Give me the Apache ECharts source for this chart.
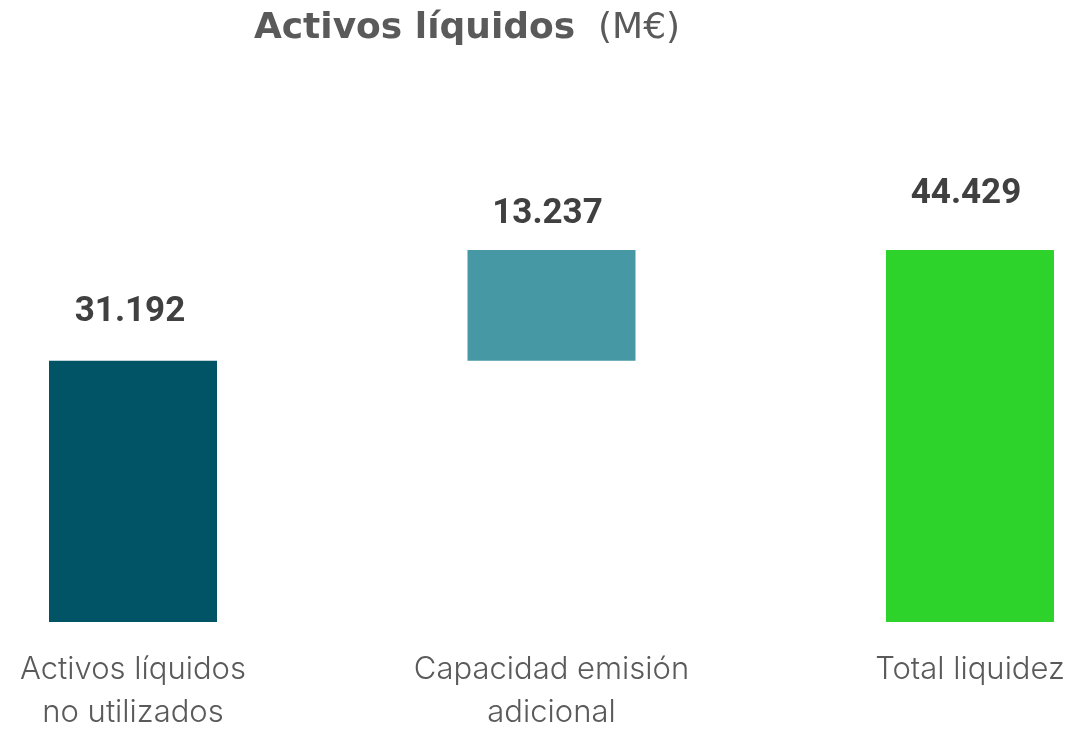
<!DOCTYPE html>
<html>
<head>
<meta charset="utf-8">
<style>
  html, body { margin: 0; padding: 0; background: #ffffff; overflow: hidden; }
  #chart { width: 1076px; height: 734px; }
</style>
<script src="https://cdn.jsdelivr.net/npm/echarts@6/dist/echarts.min.js"></script>
</head>
<body>
<div id="chart"></div>
<script>
// Liquidity waterfall (M€)
const categories = ['Activos líquidos\nno utilizados', 'Capacidad emisión\nadicional', 'Total liquidez'];
const values = [31192, 13237, 44429];
const barColors = ['#015466', '#4698A5', '#2DD32A'];
// invisible base under each bar: the added capacity floats on top of the first bar
const bases = [0, values[0], 0];
// label nudges [x, y] in px for each value label
const labelOffsets = [[-3, -7], [-4, 6], [-4, -14]];

function fmt(v) {
  return String(v).replace(/\B(?=(\d{3})+(?!\d))/g, '.');
}

const chart = echarts.init(document.getElementById('chart'), null, { renderer: 'canvas' });

chart.setOption({
  animation: false,
  title: {
    text: '{b|Activos líquidos}{r|  (M€)}',
    left: 462,
    textAlign: 'center',
    top: 6,
    textStyle: {
      rich: {
        b: { fontFamily: 'DejaVu Sans', fontWeight: 'bold', fontSize: 36, color: '#5a5a5a' },
        r: { fontFamily: 'DejaVu Sans', fontWeight: 'normal', fontSize: 36, color: '#5a5a5a' }
      }
    }
  },
  grid: { left: 133, right: 106, top: 203.3, height: 424, containLabel: false },
  xAxis: {
    type: 'category',
    data: categories,
    boundaryGap: false,
    axisLine: { show: false },
    axisTick: { show: false },
    splitLine: { show: false },
    axisLabel: {
      interval: 0,
      margin: 26,
      fontFamily: 'Inter',
      fontWeight: 300,
      fontSize: 31,
      lineHeight: 43,
      color: '#5a5a5a'
    }
  },
  yAxis: {
    type: 'value',
    min: 0,
    max: 50000,
    show: false,
    splitLine: { show: false }
  },
  series: [
    {
      type: 'bar',
      stack: 'w',
      data: bases,
      barWidth: 168,
      clip: false,
      itemStyle: { color: 'rgba(0,0,0,0)' },
      silent: true
    },
    {
      type: 'bar',
      stack: 'w',
      barWidth: 168,
      clip: false,
      data: values.map((v, i) => ({
        value: v,
        itemStyle: { color: barColors[i] },
        label: { offset: labelOffsets[i] }
      })),
      label: {
        show: true,
        position: 'top',
        distance: 24,
        formatter: p => fmt(p.value),
        fontFamily: 'Roboto',
        fontWeight: 'bold',
        fontSize: 35,
        color: '#404040'
      }
    }
  ]
});
</script>
</body>
</html>
